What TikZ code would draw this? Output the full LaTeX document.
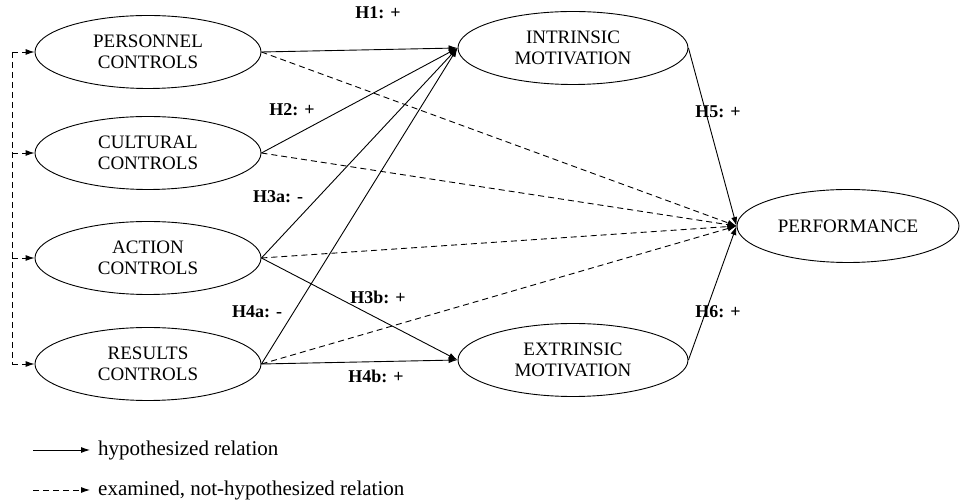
\documentclass[tikz,border=0pt]{standalone}
\usepackage{fontspec}
\setmainfont{Liberation Serif}
\usetikzlibrary{shapes.geometric,arrows.meta}
\begin{document}
\begin{tikzpicture}[x=1pt,y=1pt,
  lat/.style={draw,ellipse,line width=0.9pt,minimum width=226pt,minimum height=73pt,inner sep=0pt,align=center,font=\fontsize{19}{21.5}\selectfont},
  hyp/.style={line width=0.9pt,-{Latex[length=9pt,width=6pt]}},
  exa/.style={line width=0.9pt,dashed,dash pattern=on 6pt off 4pt,-{Latex[length=9pt,width=6pt]}},
  lbl/.style={font=\bfseries\fontsize{18}{21}\selectfont,inner sep=0pt},
  leg/.style={font=\fontsize{21}{24}\selectfont,anchor=west,inner sep=0pt}]
\useasboundingbox (0,0) rectangle (961,500);
\node[lat] (pers) at (148,448) {PERSONNEL\\CONTROLS};
\node[lat] (cult) at (148,347) {CULTURAL\\CONTROLS};
\node[lat] (act) at (148,242) {ACTION\\CONTROLS};
\node[lat] (res) at (148,136) {RESULTS\\CONTROLS};
\node[lat,minimum width=230pt] (intr) at (573,452) {INTRINSIC\\MOTIVATION};
\node[lat,minimum width=230pt] (extr) at (573,140) {EXTRINSIC\\MOTIVATION};
\node[lat,minimum width=222pt] (perf) at (848,274) {PERFORMANCE};
% feedback dashed line
\coordinate (fbtop) at (12,448);
\coordinate (fbbot) at (12,136);
\draw[line width=0.9pt,dashed,dash pattern=on 6pt off 4pt] (fbtop) -- (fbbot);
\draw[exa] (fbtop) -- (pers.west);
\draw[exa] (fbtop |- cult.west) -- (cult.west);
\draw[exa] (fbtop |- act.west) -- (act.west);
\draw[exa] (fbbot) -- (res.west);
% hypothesized
\draw[hyp] (pers.east) -- (intr.west);
\draw[hyp] (cult.east) -- (intr.west);
\draw[hyp] (act.east) -- (intr.west);
\draw[hyp] (res.east) -- (intr.west);
\draw[hyp] (act.east) -- (extr.west);
\draw[hyp] (res.east) -- (extr.west);
\draw[hyp] (intr.east) -- (perf.west);
\draw[hyp] (extr.east) -- (perf.west);
% examined
\draw[exa] (pers.east) -- (perf.west);
\draw[exa] (cult.east) -- (perf.west);
\draw[exa] (act.east) -- (perf.west);
\draw[exa] (res.east) -- (perf.west);
% labels
\node[lbl] (h1) at (378,487) {H1: +};
\node[lbl] (h2) at (292,390) {H2: +};
\node[lbl] (h3a) at (278,303) {H3a: -};
\node[lbl] (h4a) at (257,188) {H4a: -};
\node[lbl] (h3b) at (378,203) {H3b: +};
\node[lbl] (h4b) at (376,124) {H4b: +};
\node[lbl] (h5) at (718,388) {H5: +};
\node[lbl] (h6) at (718,188) {H6: +};
% legend
\coordinate (l1a) at (33,50);
\coordinate (l1b) at (90,50);
\coordinate (l2a) at (33,10);
\coordinate (l2b) at (90,10);
\draw[hyp] (l1a) -- (l1b);
\draw[exa] (l2a) -- (l2b);
\node[leg] (t1) at (98,50) {hypothesized relation};
\node[leg] (t2) at (98,10) {examined, not-hypothesized relation};
\end{tikzpicture}
\end{document}
